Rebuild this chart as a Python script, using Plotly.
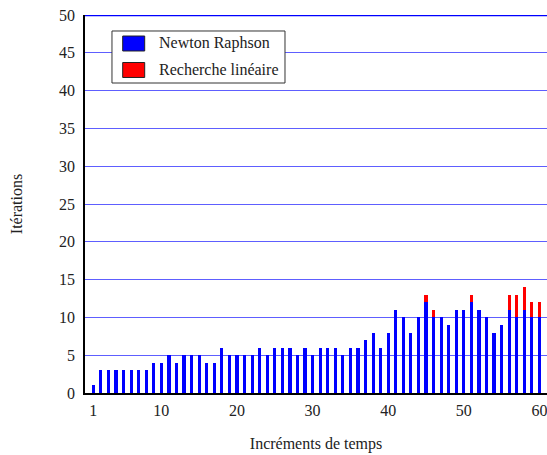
import plotly.graph_objects as go

increments = list(range(1, 61))
newton_raphson = [1, 3, 3, 3, 3, 3, 3, 3, 4, 4,
                  5, 4, 5, 5, 5, 4, 4, 6, 5, 5,
                  5, 5, 6, 5, 6, 6, 6, 5, 6, 5,
                  6, 6, 6, 5, 6, 6, 7, 8, 6, 8,
                  11, 10, 8, 10, 12, 10, 10, 9, 11, 11,
                  12, 11, 10, 8, 9, 11, 10, 11, 10, 10]
recherche_lineaire = [0, 0, 0, 0, 0, 0, 0, 0, 0, 0,
                      0, 0, 0, 0, 0, 0, 0, 0, 0, 0,
                      0, 0, 0, 0, 0, 0, 0, 0, 0, 0,
                      0, 0, 0, 0, 0, 0, 0, 0, 0, 0,
                      0, 0, 0, 0, 1, 1, 0, 0, 0, 0,
                      1, 0, 0, 0, 0, 2, 3, 3, 2, 2]
series_names = ["Newton Raphson", "Recherche linéaire"]
series_colors = ["#0000ff", "#ff0000"]
x_ticks = [1, 10, 20, 30, 40, 50, 60]
y_ticks = list(range(0, 51, 5))

FONT = "Liberation Serif"
FS = 16

fig = go.Figure()
for vals, name, col in zip([newton_raphson, recherche_lineaire], series_names, series_colors):
    fig.add_trace(go.Bar(x=increments, y=vals, name=name,
                         marker=dict(color=col, line=dict(width=0)),
                         width=0.42, showlegend=False))

# hand-drawn legend box (paper coordinates) to match the boxed LaTeX legend
shapes = [
    dict(type="line", xref="paper", yref="y", x0=0, x1=1, y0=50, y1=50,
         line=dict(color="#0000ff", width=2.5)),
    dict(type="rect", xref="paper", yref="paper", x0=0.0584, x1=0.4329,
         y0=0.8201, y1=0.9577, line=dict(color="#333", width=1), fillcolor="white"),
]
annotations = []
rows = [(0.9048, 0.9444, 0.9251), (0.8347, 0.8743, 0.8545)]
for (y0, y1, yc), name, col in zip(rows, series_names, series_colors):
    shapes.append(dict(type="rect", xref="paper", yref="paper", x0=0.0816, x1=0.1292,
                       y0=y0, y1=y1, line=dict(color="#222", width=1), fillcolor=col))
    annotations.append(dict(text=name, xref="paper", yref="paper", x=0.1558, y=yc,
                            xanchor="left", yanchor="middle", showarrow=False,
                            font=dict(family=FONT, size=FS, color="#222")))

fig.update_layout(
    barmode="stack",
    width=547, height=455,
    margin=dict(l=85, r=0, t=15, b=62),
    plot_bgcolor="white", paper_bgcolor="white",
    font=dict(family=FONT, size=FS, color="#222"),
    showlegend=False,
    xaxis=dict(range=[-0.1, 61.0], tickvals=x_ticks, showgrid=False,
               showline=True, linecolor="black", linewidth=1.5, ticks="",
               ticklabelstandoff=2, ticklabeloverflow="allow", zeroline=False,
               title=dict(text="Incréments de temps", standoff=20,
                          font=dict(family=FONT, size=FS))),
    yaxis=dict(range=[0, 50], tickvals=y_ticks, showgrid=True,
               gridcolor="rgba(40,40,255,0.75)", gridwidth=1.2,
               showline=True, linecolor="black", linewidth=1.5, ticks="",
               ticklabelstandoff=5, zeroline=False,
               title=dict(text="Itérations", standoff=32,
                          font=dict(family=FONT, size=FS))),
    shapes=shapes,
    annotations=annotations,
)

fig.write_html("out.html", config={"displayModeBar": False},
               post_script="document.body.style.margin='0';")
